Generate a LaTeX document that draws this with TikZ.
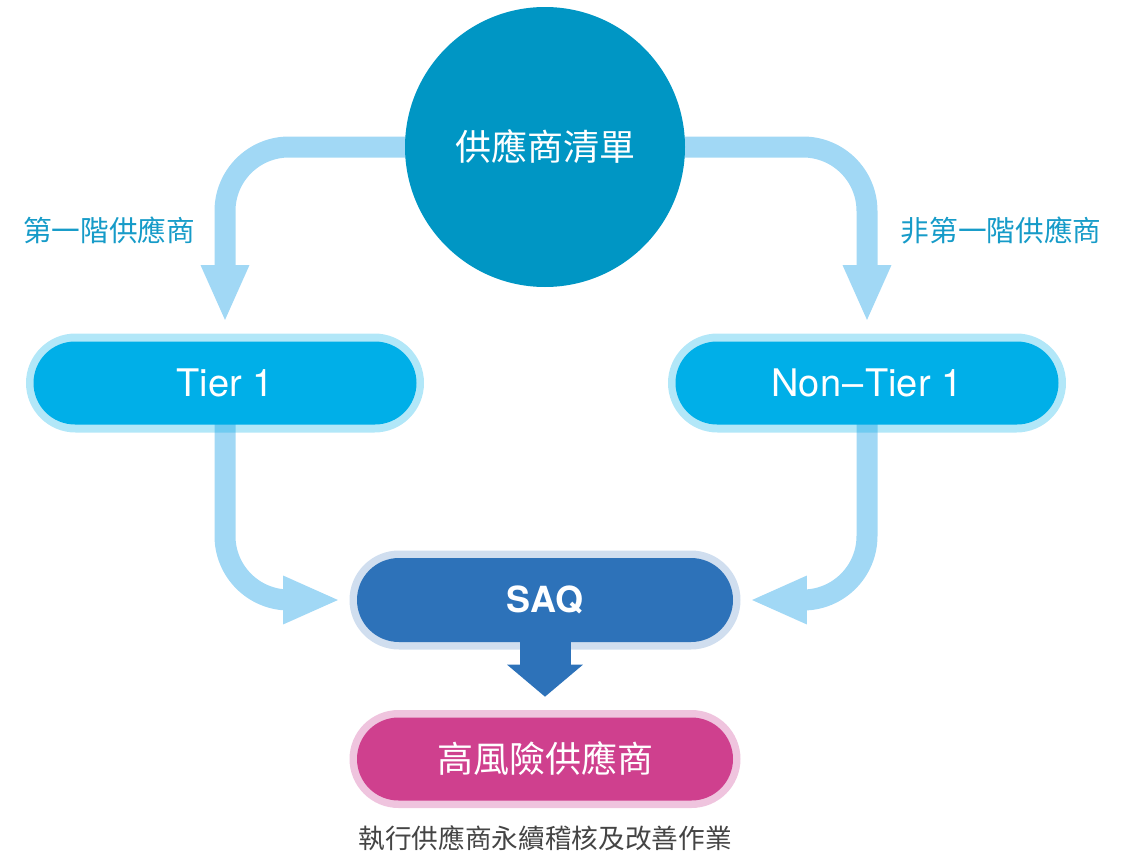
\documentclass[tikz,border=0pt]{standalone}
\usepackage{fontspec}
\setmainfont{TeX Gyre Heros}
\newfontfamily\cjk{Noto Sans CJK TC}
\usetikzlibrary{shapes.misc,arrows.meta,backgrounds}
\definecolor{listc}{RGB}{0,150,196}
\definecolor{tierc}{RGB}{0,175,232}
\definecolor{saqc}{RGB}{45,114,185}
\definecolor{saqhalo}{RGB}{208,222,239}
\definecolor{highc}{RGB}{207,64,142}
\definecolor{highhalo}{RGB}{239,196,222}
\definecolor{connc}{RGB}{161,216,245}
\definecolor{labelc}{RGB}{22,155,200}
\definecolor{capc}{RGB}{68,68,68}
\def\u{0.75pt}
\begin{document}
\begin{tikzpicture}[x=0.75pt,y=-0.75pt,
  conn/.style={draw=connc, line width=15.75pt, rounded corners=48pt,
    -{Triangle[length=42.75pt,width=33pt]}},
  halobox/.style={rounded rectangle, inner sep=0pt, draw=none},
  tierhalo/.style={halobox, fill=tierc, fill opacity=0.3, minimum width=398*\u, minimum height=99*\u},
  tierbox/.style={halobox, fill=tierc, minimum width=383*\u, minimum height=83*\u,
    text=white, font=\fontsize{28.5}{30}\selectfont},
  sidelabel/.style={text=labelc, font=\cjk\fontsize{21.5}{24}\selectfont},
]
\useasboundingbox (0,0) rectangle (1133,853);

% top circle
\node[circle, fill=listc, minimum size=280*\u, inner sep=0pt, text=white,
  font=\cjk\fontsize{27}{30}\selectfont] (list) at (545,147) {供應商清單};

% tier boxes
\node[tierhalo] (t1h) at (225,383) {};
\node[tierbox] (t1) at (t1h) {Tier 1};
\node[tierhalo] (nth) at (867,383) {};
\node[tierbox] (nt) at (nth) {Non\kern0.04em\textendash\kern0.04em Tier 1};

% SAQ halo, then arrow, then SAQ box
\node[halobox, fill=saqhalo, minimum width=391*\u, minimum height=99*\u] (saqh) at (545,600) {};
\node[halobox, fill=highhalo, minimum width=391*\u, minimum height=98*\u] (highh) at (545,759) {};
\draw[saqc, line width=38.25pt, shorten >=9.75pt,
  -{Triangle[length=24pt,width=55.5pt]}] (saqh.center) -- (highh.north);
\node[halobox, fill=saqc, minimum width=376*\u, minimum height=84*\u, text=white,
  font=\bfseries\fontsize{27}{30}\selectfont] (saq) at (saqh) {SAQ};

% high risk
\node[halobox, fill=highc, minimum width=376*\u, minimum height=83*\u, text=white,
  font=\cjk\fontsize{27}{30}\selectfont] (high) at (highh) {高風險供應商};

% labels
\node[sidelabel] (lab1) at (109,230) {第一階供應商};
\node[sidelabel] (lab2) at (1001,230) {非第一階供應商};
\node[text=capc, font=\cjk\fontsize{20}{22}\selectfont] (cap) at (545,838) {執行供應商永續稽核及改善作業};

% connectors (behind)
\begin{scope}[on background layer]
  \draw[conn, shorten >=8.25pt] (list.center) -| (t1h.north);
  \draw[conn, shorten >=8.25pt] (list.center) -| (nth.north);
  \draw[conn, shorten >=6.75pt] (t1h.center) |- (saqh.west);
  \draw[conn, shorten >=6.75pt] (nth.center) |- (saqh.east);
\end{scope}
\end{tikzpicture}
\end{document}
